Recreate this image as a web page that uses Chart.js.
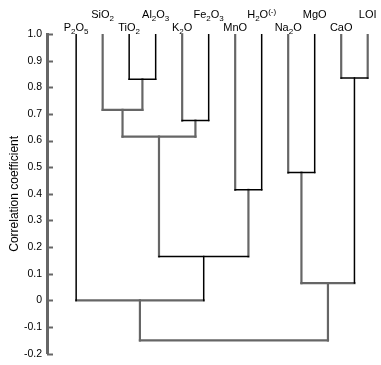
<!DOCTYPE html>
<html>
<head>
<meta charset="utf-8">
<script src="https://cdn.jsdelivr.net/npm/chart.js@4"></script>
<style>
  html, body { margin: 0; padding: 0; background: #fff; }
  #wrap { width: 381px; height: 365px; }
</style>
</head>
<body>
<div id="wrap"><canvas id="myChart"></canvas></div>
<script>
  // leaves of the dendrogram, left to right
  const leaves = ['P2O5', 'SiO2', 'TiO2', 'Al2O3', 'K2O', 'Fe2O3', 'MnO', 'H2O(-)', 'Na2O', 'MgO', 'CaO', 'LOI'];
  const leafHeight = 1.0;

  // merges: node ids 0-11 are leaves, each merge makes a new node (12, 13, ...)
  const mergeLeft = [2, 1, 4, 13, 6, 15, 0, 8, 10, 19, 18];
  const mergeRight = [3, 12, 5, 14, 7, 16, 17, 9, 11, 20, 21];
  const mergeHeight = [0.83, 0.715, 0.675, 0.615, 0.415, 0.165, 0.0, 0.48, 0.835, 0.065, -0.15];

  // y axis ticks
  const yTicks = [1.0, 0.9, 0.8, 0.7, 0.6, 0.5, 0.4, 0.3, 0.2, 0.1, 0, -0.1, -0.2];

  // which links are drawn thin black (others are thick grey)
  const blackLinks = new Set(['v0', 'v2', 'v3', 'v5', 'v7', 'v9', 'v17', 'v20',
    'h12', 'h14', 'h16', 'h17', 'h19', 'h20']);

  // build link segments from the merges
  const nodeX = leaves.map((l, i) => i);
  const nodeY = leaves.map(() => leafHeight);
  const segments = [];
  mergeLeft.forEach((a, k) => {
    const b = mergeRight[k];
    const h = mergeHeight[k];
    const id = leaves.length + k;
    segments.push({ id: 'v' + a, pts: [{ x: nodeX[a], y: nodeY[a] }, { x: nodeX[a], y: h }] });
    segments.push({ id: 'v' + b, pts: [{ x: nodeX[b], y: nodeY[b] }, { x: nodeX[b], y: h }] });
    segments.push({ id: 'h' + id, pts: [{ x: nodeX[a], y: h }, { x: nodeX[b], y: h }] });
    nodeX[id] = (nodeX[a] + nodeX[b]) / 2;
    nodeY[id] = h;
  });

  const datasets = segments.map(s => {
    const black = blackLinks.has(s.id);
    return {
      data: s.pts,
      showLine: true,
      borderColor: black ? '#000' : '#666',
      borderWidth: black ? 1.5 : 2.2,
      borderCapStyle: 'square',
      pointRadius: 0,
      order: black ? 0 : 1
    };
  });

  // leaf labels with subscripts, staggered in two rows
  const leafLabels = {
    id: 'leafLabels',
    afterDraw(chart) {
      const c = chart.ctx;
      const xs = chart.scales.x;
      c.save();
      c.fillStyle = '#000';
      c.textBaseline = 'alphabetic';
      leaves.forEach((name, i) => {
        const parts = [];
        const re = /(\(-\))|(\d)|([^\d(]+)/g;
        let m;
        while ((m = re.exec(name))) {
          if (m[1]) parts.push({ t: '(-)', k: 'sup' });
          else if (m[2]) parts.push({ t: m[2], k: 'sub' });
          else parts.push({ t: m[3], k: 'n' });
        }
        const fontFor = k => (k === 'n' ? '11px "Liberation Sans", Arial' : '8px "Liberation Sans", Arial');
        let w = 0;
        parts.forEach(p => { c.font = fontFor(p.k); w += c.measureText(p.t).width; });
        let x = xs.getPixelForValue(i) - w / 2;
        const base = i % 2 === 1 ? 18 : 31;
        parts.forEach(p => {
          c.font = fontFor(p.k);
          const dy = p.k === 'sub' ? 2.5 : (p.k === 'sup' ? -4 : 0);
          c.textAlign = 'left';
          c.fillText(p.t, x, base + dy);
          x += c.measureText(p.t).width;
        });
      });
      c.restore();
    }
  };

  // short inward tick marks on the y axis
  const innerTicks = {
    id: 'innerTicks',
    afterDraw(chart) {
      const c = chart.ctx;
      const ys = chart.scales.y;
      const left = chart.chartArea.left;
      c.save();
      c.strokeStyle = '#666';
      c.lineWidth = 2;
      yTicks.forEach(v => {
        const y = Math.round(ys.getPixelForValue(v)) + 0.5;
        c.beginPath();
        c.moveTo(left, y);
        c.lineTo(left + 6, y);
        c.stroke();
      });
      c.restore();
    }
  };

  const ctx = document.getElementById('myChart').getContext('2d');
  const myChart = new Chart(ctx, {
    type: 'scatter',
    data: { datasets: datasets },
    options: {
      responsive: true,
      maintainAspectRatio: false,
      animation: false,
      layout: { padding: { top: 34, bottom: 10, right: 8, left: 0 } },
      plugins: { legend: { display: false }, tooltip: { enabled: false } },
      scales: {
        x: { type: 'linear', min: -1.1, max: 11.2, display: false },
        y: {
          min: -0.2,
          max: 1.0,
          afterFit: s => { s.width = 47; },
          afterBuildTicks: s => { s.ticks = yTicks.map(v => ({ value: v })); },
          grid: { display: true, drawOnChartArea: false, drawTicks: false },
          border: { display: true, color: '#666', width: 3 },
          ticks: {
            color: '#000',
            padding: 5,
            font: { family: '"Liberation Sans", Arial', size: 10.5 },
            callback: v => (v === 0 ? '0' : v.toFixed(1))
          },
          title: {
            display: true,
            text: 'Correlation coefficient',
            color: '#000',
            font: { family: '"Liberation Sans", Arial', size: 12 },
            padding: { top: 7, bottom: 0 }
          }
        }
      }
    },
    plugins: [leafLabels, innerTicks]
  });
</script>
</body>
</html>
